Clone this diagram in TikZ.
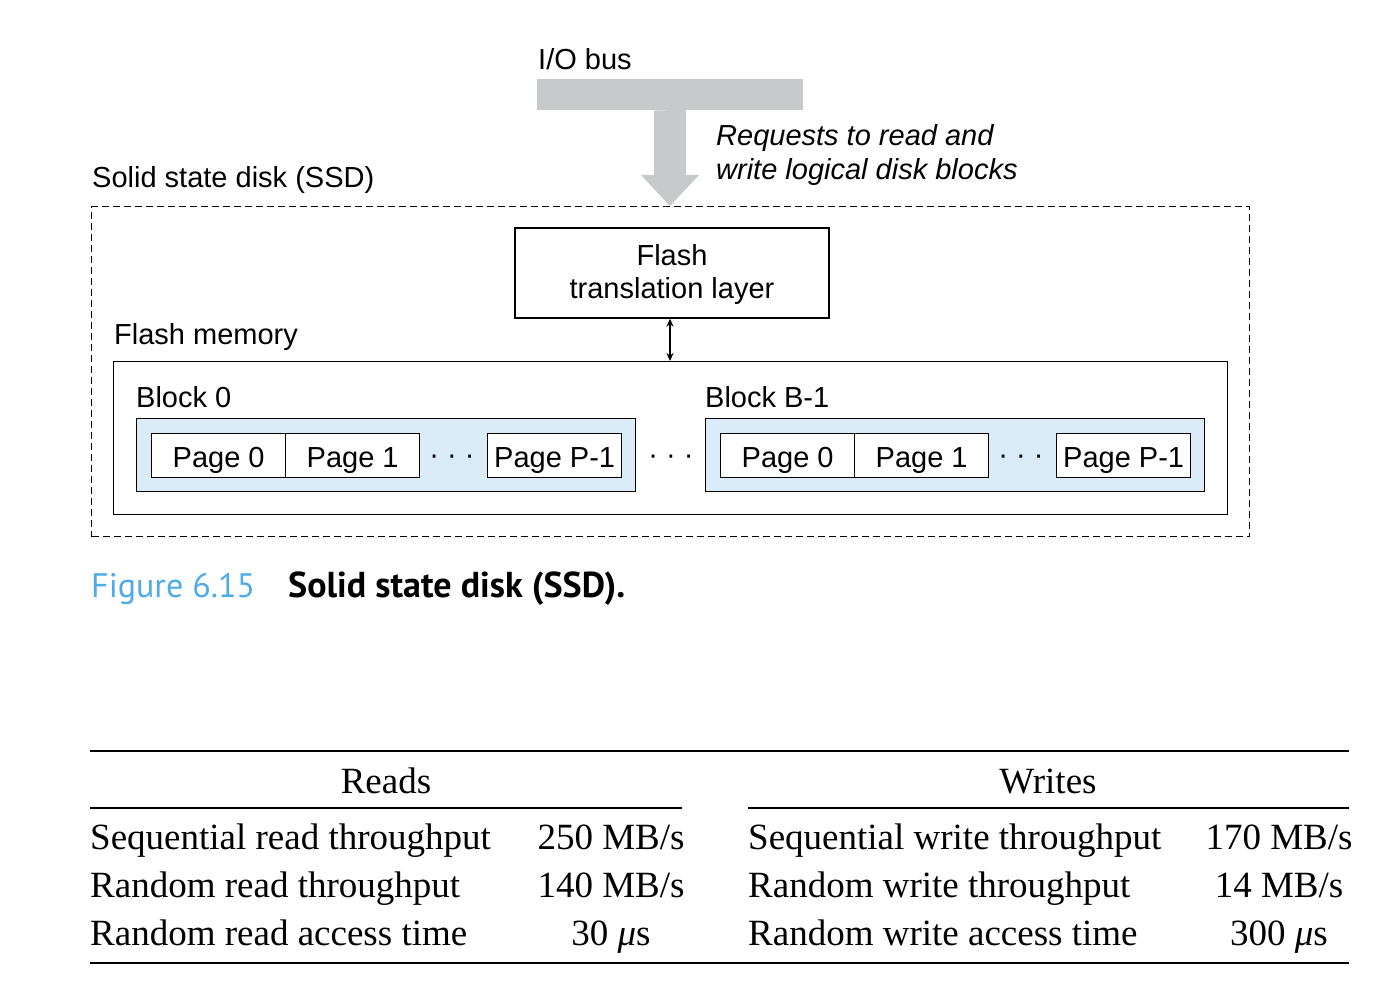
\documentclass[tikz,border=0pt]{standalone}
\usepackage{fontspec}
\setmainfont{Liberation Sans}
\newfontfamily\tabfont{Liberation Serif}
\newfontfamily\capfont{PT Sans}
\usetikzlibrary{arrows.meta}
\definecolor{busgray}{RGB}{200,201,203}
\definecolor{blockblue}{RGB}{219,236,249}
\definecolor{capblue}{RGB}{77,171,232}
\tikzset{
  lbl/.style={anchor=base west, inner sep=0pt, font=\fontsize{29}{34}\selectfont},
  ilbl/.style={lbl, font=\fontsize{29}{34}\selectfont\itshape},
  pagebox/.style={draw, line width=1.3pt, fill=white, minimum width=134pt, minimum height=44pt, inner sep=0pt, text height=23pt, text depth=0pt, font=\fontsize{29}{34}\selectfont},
  blockbox/.style={draw, line width=1.3pt, fill=blockblue, minimum width=499pt, minimum height=73pt, inner sep=0pt},
  dotsnode/.style={inner sep=0pt, font=\fontsize{29}{34}\selectfont},
  tab/.style={inner sep=0pt, font=\fontsize{37}{42}\tabfont},
  tabl/.style={tab, anchor=base west},
  tabc/.style={tab, anchor=base},
}
\begin{document}
\begin{tikzpicture}[x=1pt,y=-1pt]
\useasboundingbox (0,0) rectangle (1380,984);
% I/O bus
\node[lbl] (iolbl) at (538,70) {I/O bus};
\node[fill=busgray, minimum width=266pt, minimum height=31pt, inner sep=0pt, anchor=north west] (bus) at (537,79) {};
% SSD dashed box
\node[draw, dash pattern=on 7pt off 4pt, line width=1.2pt, minimum width=1158pt, minimum height=330pt, inner sep=0pt, anchor=north west] (ssd) at (91,206) {};
\fill[busgray] (bus.south -| 654,0) -- (686,110) -- (686,175) -- (699,175) -- (ssd.north -| 670,0) -- (641,175) -- (654,175) -- cycle;
\node[ilbl] (req1) at (716,146) {Requests to read and};
\node[ilbl] (req2) at (716,180) {write logical disk blocks};
\node[lbl] (ssdlbl) at (92,188) {Solid state disk (SSD)};
% FTL
\node[draw, line width=1.3pt, minimum width=314pt, minimum height=90pt, inner sep=0pt, align=center, font=\fontsize{29}{33}\selectfont] (ftl) at (672,273) {};
\node[inner sep=0pt, align=center, font=\fontsize{29}{33}\selectfont] (ftltext) at (672,275) {Flash\\translation layer};
% Flash memory
\node[lbl] (memlbl) at (114,344) {Flash memory};
\node[draw, line width=1.3pt, minimum width=1114pt, minimum height=153pt, inner sep=0pt, anchor=north west] (mem) at (113,361) {};
\draw[{Stealth[length=8pt,width=7pt]}-{Stealth[length=8pt,width=7pt]}, line width=1.2pt] (ftl.south -| 670,0) -- (mem.north -| 670,0);
% Block 0
\node[lbl] (b0lbl) at (136,407) {Block 0};
\node[blockbox, anchor=north west] (b0) at (136,418) {};
\node[pagebox, anchor=north west] (b0p0) at (151,433) {Page 0};
\node[pagebox, anchor=north west] (b0p1) at (285,433) {Page 1};
\node[dotsnode] (b0d) at (452,460) {· · ·};
\node[pagebox, anchor=north west] (b0pn) at (487,433) {Page P-1};
\node[dotsnode] (md) at (671,460) {· · ·};
% Block B-1
\node[lbl] (b1lbl) at (705,407) {Block B-1};
\node[blockbox, anchor=north west] (b1) at (705,418) {};
\node[pagebox, anchor=north west] (b1p0) at (720,433) {Page 0};
\node[pagebox, anchor=north west] (b1p1) at (854,433) {Page 1};
\node[dotsnode] (b1d) at (1021,460) {· · ·};
\node[pagebox, anchor=north west] (b1pn) at (1056,433) {Page P-1};
% Caption
\node[anchor=base west, inner sep=0pt, font=\fontsize{34}{40}\capfont, text=capblue] (fig) at (91,597) {Figure 6.15};
\node[anchor=base west, inner sep=0pt, font=\fontsize{36}{40}\capfont\bfseries] (cap) at (288,597) {Solid state disk (SSD).};
% Table
\draw[line width=2pt] (90,751) -- (1349,751);
\node[tabc] (reads) at (386,793) {Reads};
\node[tabc] (writes) at (1048,793) {Writes};
\draw[line width=1.2pt] (90,808) -- (682,808);
\draw[line width=1.2pt] (748,808) -- (1349,808);
\node[tabl] (r1) at (90,849) {Sequential read throughput};
\node[tabl] (r2) at (90,897) {Random read throughput};
\node[tabl] (r3) at (90,945) {Random read access time};
\node[tabc] (r1v) at (611,849) {250 MB/s};
\node[tabc] (r2v) at (611,897) {140 MB/s};
\node[tabc] (r3v) at (611,945) {30 {\itshape μ}s};
\node[tabl] (w1) at (748,849) {Sequential write throughput};
\node[tabl] (w2) at (748,897) {Random write throughput};
\node[tabl] (w3) at (748,945) {Random write access time};
\node[tabc] (w1v) at (1279,849) {170 MB/s};
\node[tabc] (w2v) at (1279,897) {14 MB/s};
\node[tabc] (w3v) at (1279,945) {300 {\itshape μ}s};
\draw[line width=2pt] (90,963) -- (1349,963);
\end{tikzpicture}
\end{document}
